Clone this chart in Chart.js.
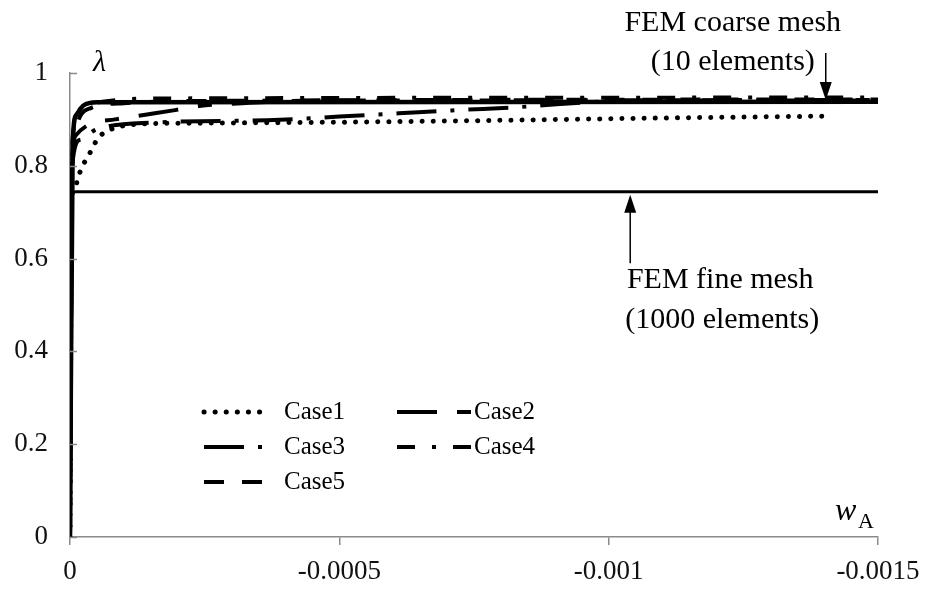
<!DOCTYPE html>
<html><head><meta charset="utf-8">
<script src="https://cdn.jsdelivr.net/npm/chart.js@4.4.1/dist/chart.umd.min.js"></script>
<style>html,body{margin:0;padding:0;background:#fff;}canvas{display:block;}</style>
</head><body>
<canvas id="c" width="928" height="593"></canvas>
<script>
// ---- tick values / labels ----
const xTicks = [0, -0.0005, -0.001, -0.0015];
const xTickLabels = ['0', '-0.0005', '-0.001', '-0.0015'];
const yTicks = [0, 0.2, 0.4, 0.6, 0.8, 1];
const yTickLabels = ['0', '0.2', '0.4', '0.6', '0.8', '1'];

// ---- series (x = w_A, y = λ) ----
const seriesLabels = ['Case1', 'Case2', 'Case3', 'Case4', 'Case5'];

const case1X = [0, -0.000003, -0.000008, -0.000015, -0.000022, -0.000033, -0.000043, -0.000052, -0.00007, -0.00009, -0.00013, -0.00025, -0.0005, -0.0008, -0.0011, -0.0014];
const case1Y = [0, 0.72, 0.75, 0.774, 0.797, 0.819, 0.841, 0.86, 0.875, 0.884, 0.89, 0.892, 0.894, 0.898, 0.903, 0.907];

const case2X = [0, -0.000004, -0.000011, -0.000037, -0.000084, -0.00014, -0.000195, -0.00024, -0.00032, -0.00043, -0.0008, -0.0015];
const case2Y = [0, 0.80, 0.866, 0.89, 0.90, 0.91, 0.92, 0.929, 0.935, 0.94, 0.941, 0.942];

const case3X = [0, -0.000004, -0.000019, -0.000046, -0.000074, -0.00015, -0.00039, -0.0005, -0.00061, -0.00072, -0.00084, -0.00091, -0.00098, -0.0011, -0.0015];
const case3Y = [0, 0.80, 0.856, 0.877, 0.886, 0.893, 0.899, 0.906, 0.913, 0.92, 0.927, 0.933, 0.938, 0.94, 0.941];

const case4X = [0, -0.000004, -0.000008, -0.000015, -0.00003, -0.00006, -0.00015, -0.0015];
const case4Y = [0, 0.82, 0.885, 0.915, 0.93, 0.938, 0.945, 0.947];

const case5X = [0, -0.000004, -0.000009, -0.000018, -0.00004, -0.0001, -0.0003, -0.0015];
const case5Y = [0, 0.80, 0.87, 0.905, 0.925, 0.935, 0.94, 0.943];

const coarseX = [0, -0.000005, -0.000012, -0.000025, -0.00005, -0.0015];
const coarseY = [0, 0.85, 0.91, 0.93, 0.937, 0.938];

const fineX = [0, -0.000004, -0.00001, -0.0015];
const fineY = [0, 0.74, 0.744, 0.744];

const FONT = '"Liberation Serif", "Times New Roman", serif';
const AXIS_GREY = '#8a8a8a';

function pts(xs, ys) { return xs.map((x, i) => ({ x: x, y: ys[i] })); }

function ds(label, xs, ys, dash, width, cap, inLegend) {
  return {
    label: label, data: pts(xs, ys), showLine: true, pointRadius: 0, pointHoverRadius: 0,
    borderColor: '#000', backgroundColor: '#000', borderWidth: width,
    borderDash: dash, borderCapStyle: cap, borderJoinStyle: 'round',
    cubicInterpolationMode: 'monotone', fill: false, inLegend: inLegend
  };
}

const datasets = [
  ds('FEM fine mesh', fineX, fineY, [], 3, 'butt', false),
  ds('FEM coarse mesh', coarseX, coarseY, [], 4.5, 'butt', false),
  ds(seriesLabels[0], case1X, case1Y, [0.1, 11], 5, 'round', true),
  ds(seriesLabels[1], case2X, case2Y, [40, 20, 14, 20], 4, 'butt', true),
  ds(seriesLabels[2], case3X, case3Y, [40, 14, 4, 14], 4, 'butt', true),
  ds(seriesLabels[3], case4X, case4Y, [18, 17, 4, 17], 4, 'butt', true),
  ds(seriesLabels[4], case5X, case5Y, [20, 18], 4, 'butt', true)
];

const decorPlugin = {
  id: 'decor',
  beforeDraw(chart) {
    const c = chart.ctx;
    c.save(); c.fillStyle = '#fff'; c.fillRect(0, 0, chart.width, chart.height); c.restore();
  },
  afterDraw(chart) {
    const c = chart.ctx;
    const xs = chart.scales.x, ys = chart.scales.y;
    const area = chart.chartArea;
    c.save();
    // inward y ticks
    c.strokeStyle = AXIS_GREY; c.lineWidth = 1.5;
    yTicks.forEach(v => {
      const py = Math.round(ys.getPixelForValue(v)) + 0.5;
      c.beginPath(); c.moveTo(area.left, py); c.lineTo(area.left + 7, py); c.stroke();
    });

    // axis titles
    c.fillStyle = '#000';
    c.textBaseline = 'alphabetic';
    c.font = 'italic 30px ' + FONT;
    c.textAlign = 'left';
    c.fillText('λ', area.left + 23, area.top - 2);
    c.font = 'italic 32px ' + FONT;
    c.fillText('w', area.right - 43, area.bottom - 17);
    c.font = '22px ' + FONT;
    c.fillText('A', area.right - 20, area.bottom - 9);

    // annotations
    c.font = '30px ' + FONT;
    c.textAlign = 'center';
    c.textBaseline = 'middle';
    const coarseArrowX = xs.getPixelForValue(-0.001403);
    const coarseTip = ys.getPixelForValue(0.942);
    c.fillText('FEM coarse mesh', coarseArrowX - 93, area.top - 50);
    c.fillText('(10 elements)', coarseArrowX - 93, area.top - 11);
    drawArrow(c, coarseArrowX, area.top - 20, coarseTip, 1);

    const fineArrowX = xs.getPixelForValue(-0.00104);
    const fineTip = ys.getPixelForValue(0.744) + 3;
    c.fillText('FEM fine mesh', fineArrowX + 90, ys.getPixelForValue(0.553));
    c.fillText('(1000 elements)', fineArrowX + 92, ys.getPixelForValue(0.468));
    drawArrow(c, fineArrowX, ys.getPixelForValue(0.59), fineTip, -1);

    // legend
    const cols = [204, 397];
    const sampleLen = [62, 76];
    const textX = [284, 474];
    const rowsY = [412, 447, 482];
    let k = 0;
    chart.data.datasets.forEach(d => {
      if (!d.inLegend) return;
      const col = k % 2, row = Math.floor(k / 2);
      const y = rowsY[row];
      c.save();
      c.strokeStyle = '#000'; c.lineWidth = d.borderWidth; c.lineCap = d.borderCapStyle;
      c.setLineDash(d.borderDash);
      c.beginPath(); c.moveTo(cols[col], y); c.lineTo(cols[col] + sampleLen[col], y); c.stroke();
      c.restore();
      c.font = '25px ' + FONT; c.textAlign = 'left'; c.textBaseline = 'middle'; c.fillStyle = '#000';
      c.fillText(d.label, textX[col], y);
      k++;
    });
    c.restore();
  }
};

function drawArrow(c, x, y0, tip, dir) {
  c.save();
  c.strokeStyle = '#000'; c.fillStyle = '#000'; c.lineWidth = 1.5;
  c.beginPath(); c.moveTo(x, y0); c.lineTo(x, tip - dir * 16); c.stroke();
  c.beginPath(); c.moveTo(x - 6, tip - dir * 18); c.lineTo(x + 6, tip - dir * 18); c.lineTo(x, tip); c.closePath(); c.fill();
  c.restore();
}

new Chart(document.getElementById('c'), {
  type: 'scatter',
  data: { datasets: datasets },
  plugins: [decorPlugin],
  options: {
    responsive: false, animation: false, events: [],
    layout: { padding: { top: 73, right: 50, left: 0, bottom: 0 } },
    plugins: { legend: { display: false }, tooltip: { enabled: false } },
    scales: {
      x: {
        type: 'linear', min: -0.0015, max: 0, reverse: true,
        afterBuildTicks: s => { s.ticks = xTicks.map(v => ({ value: v })); },
        afterFit: s => { s.height = 56; s.paddingRight = 0; s.paddingLeft = 0; },
        ticks: {
          callback: v => xTickLabels[xTicks.indexOf(v)],
          font: { family: FONT, size: 27 }, color: '#111', padding: 11, maxRotation: 0
        },
        grid: { drawOnChartArea: false, drawTicks: true, tickLength: 8, color: AXIS_GREY, lineWidth: 1.5 },
        border: { color: AXIS_GREY, width: 1.5 }
      },
      y: {
        type: 'linear', min: 0, max: 1,
        afterBuildTicks: s => { s.ticks = yTicks.map(v => ({ value: v })); },
        afterFit: s => { s.width = 70; s.paddingTop = 0; s.paddingBottom = 0; },
        ticks: {
          callback: v => yTickLabels[yTicks.indexOf(v)],
          font: { family: FONT, size: 27 }, color: '#111', padding: 22
        },
        grid: { drawOnChartArea: false, drawTicks: false },
        border: { color: AXIS_GREY, width: 1.5 }
      }
    }
  }
});
</script>
</body></html>
